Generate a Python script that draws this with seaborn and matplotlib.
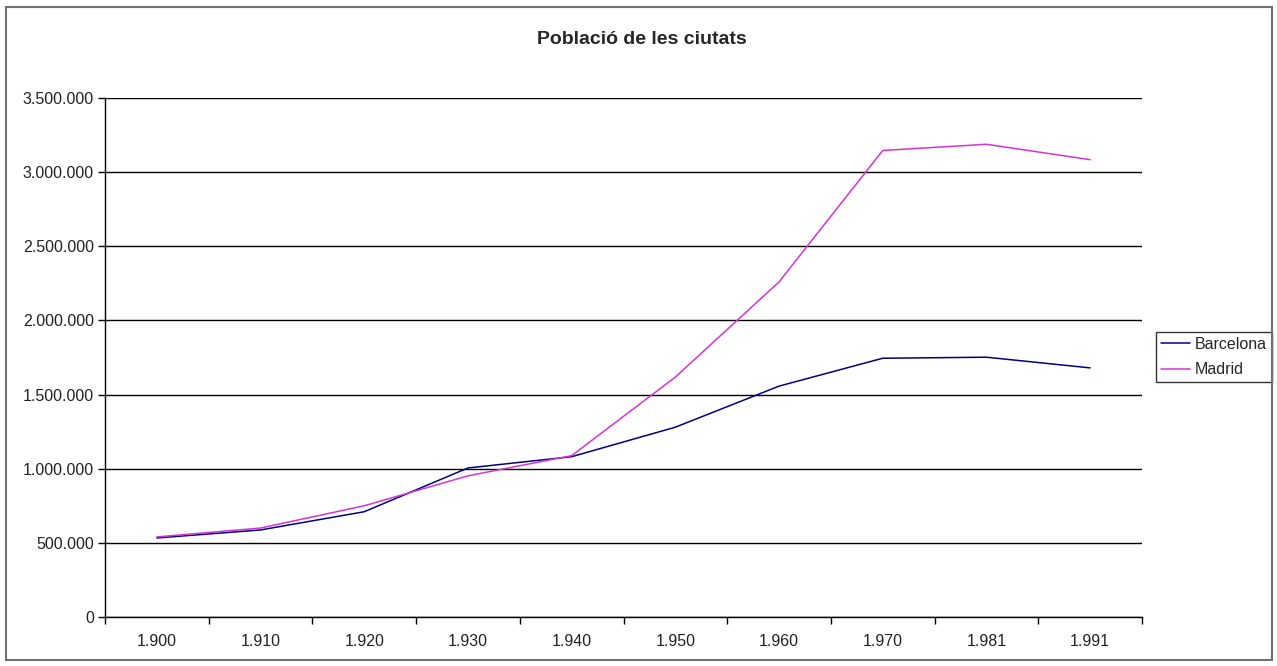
import numpy as np
import pandas as pd
import seaborn as sns
import matplotlib.pyplot as plt
from matplotlib.patches import Rectangle
from matplotlib.ticker import FuncFormatter, FixedLocator

# Data
years = ["1.900", "1.910", "1.920", "1.930", "1.940",
         "1.950", "1.960", "1.970", "1.981", "1.991"]
barcelona = [533000, 587000, 710000, 1005000, 1081000,
             1280000, 1557000, 1745000, 1752000, 1680000]
madrid = [540000, 600000, 750000, 952000, 1088000,
          1618000, 2260000, 3146000, 3188000, 3084000]
series_names = ["Barcelona", "Madrid"]
colors = {"Barcelona": "#000080", "Madrid": "#d633d6"}

df = pd.DataFrame({"Any": years * 2,
                   "Ciutat": np.repeat(series_names, len(years)),
                   "Poblacio": barcelona + madrid})

sns.set_style("white")
plt.rcParams['font.family'] = ['Liberation Sans', 'DejaVu Sans']

W, H = 1277, 666
fig = plt.figure(figsize=(W / 100, H / 100), dpi=100)
ax = fig.add_axes([105 / W, 1 - 617 / H, (1142 - 105) / W, (617 - 98) / H])

sns.lineplot(data=df, x="Any", y="Poblacio", hue="Ciutat",
             palette=colors, linewidth=1.1, ax=ax, sort=False)

ax.set_xlim(-0.5, len(years) - 0.5)
ax.set_ylim(0, 3500000)
ax.set_yticks(np.arange(0, 3500001, 500000))
ax.yaxis.set_major_formatter(
    FuncFormatter(lambda v, p: f"{int(v):,}".replace(",", ".")))
ax.grid(axis="y", color="black", linewidth=1)
ax.set_axisbelow(True)

# x ticks: marks between categories, labels at the centres
ax.xaxis.set_major_locator(FixedLocator(np.arange(-0.5, len(years), 1)))
ax.xaxis.set_minor_locator(FixedLocator(np.arange(len(years))))
ax.set_xticklabels([""] * (len(years) + 1))
ax.set_xticklabels(years, minor=True)
ax.tick_params(axis="x", which="major", direction="out", length=5,
               width=1, color="black", bottom=True)
ax.tick_params(axis="x", which="minor", length=0, pad=12, labelsize=11.5)
ax.tick_params(axis="y", direction="out", length=5, width=1,
               color="black", left=True, labelsize=11.5, pad=3)
for lbl in ax.get_xticklabels(minor=True) + ax.get_yticklabels():
    lbl.set_color("#222222")

ax.set_xlabel("")
ax.set_ylabel("")
for side in ["top", "right"]:
    ax.spines[side].set_visible(False)
for side in ["left", "bottom"]:
    ax.spines[side].set_color("black")
    ax.spines[side].set_linewidth(1)

fig.text(642 / W, 1 - 40 / H, "Població de les ciutats",
         ha="center", va="center", fontsize=14, fontweight="bold")

handles, labels = ax.get_legend_handles_labels()
leg = ax.legend(handles, labels, loc="upper left",
                bbox_to_anchor=(1156 / W, 1 - 332 / H),
                bbox_transform=fig.transFigure, fontsize=11.5,
                frameon=True, fancybox=False, handlelength=1.8,
                handletextpad=0.35, borderpad=0.3, labelspacing=0.65,
                borderaxespad=0)
leg.get_frame().set_edgecolor("black")
leg.get_frame().set_linewidth(1)

fig.patches.append(Rectangle((6 / W, 1 - 660 / H), (1272 - 6) / W,
                             (660 - 7) / H, transform=fig.transFigure,
                             fill=False, edgecolor="#707070", linewidth=1.5))

fig.savefig("out.png", dpi=100)
